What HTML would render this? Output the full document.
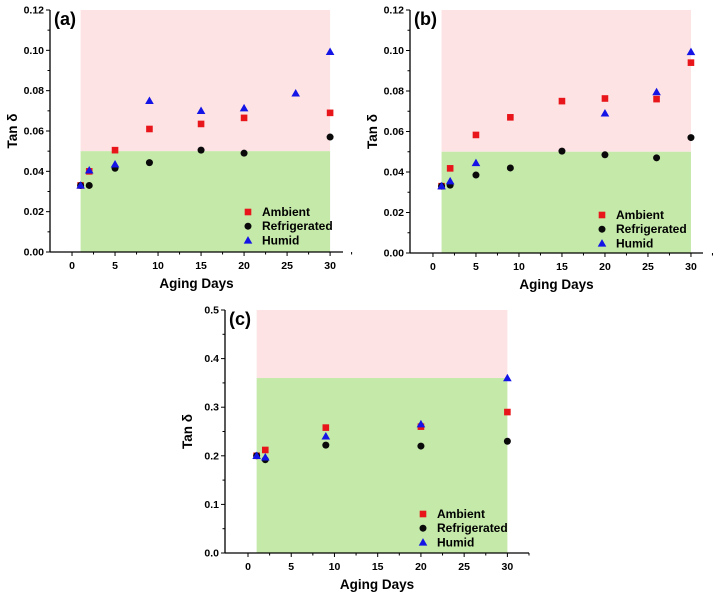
<!DOCTYPE html>
<html><head><meta charset="utf-8"><style>
body{margin:0;background:#fff;width:718px;height:599px;overflow:hidden}
svg{font-family:"Liberation Sans",Arial,sans-serif;font-weight:bold}
</style></head><body>
<svg id="s" width="718" height="599"></svg>
<script>
const daysA_amb=[1,2,5,9,15,20,30], valsA_amb=[0.033,0.040,0.0505,0.061,0.0635,0.0665,0.069];
const daysA_ref=[1,2,5,9,15,20,30], valsA_ref=[0.033,0.033,0.0415,0.0443,0.0505,0.049,0.057];
const daysA_hum=[1,2,5,9,15,20,26,30], valsA_hum=[0.033,0.0405,0.0435,0.075,0.070,0.0713,0.0787,0.0993];
const daysB_amb=[1,2,5,9,15,20,26,30], valsB_amb=[0.033,0.0418,0.0583,0.067,0.075,0.0763,0.076,0.094];
const daysB_ref=[1,2,5,9,15,20,26,30], valsB_ref=[0.033,0.0335,0.0385,0.042,0.0503,0.0485,0.047,0.057];
const daysB_hum=[1,2,5,20,26,30], valsB_hum=[0.033,0.0355,0.0445,0.069,0.0795,0.0993];
const daysC_amb=[1,2,9,20,30], valsC_amb=[0.2,0.212,0.258,0.26,0.29];
const daysC_ref=[1,2,9,20,30], valsC_ref=[0.2,0.192,0.222,0.22,0.23];
const daysC_hum=[1,2,9,20,30], valsC_hum=[0.2,0.197,0.24,0.265,0.36];
const xTicks=[0,5,10,15,20,25,30];
const yTicksAB=[0,0.02,0.04,0.06,0.08,0.10,0.12];
const yTicksC=[0,0.1,0.2,0.3,0.4,0.5];
const legendNames=["Ambient","Refrigerated","Humid"];
const NS="http://www.w3.org/2000/svg";
const svg=document.getElementById('s');
function mk(t,a,p){const e=document.createElementNS(NS,t);for(const k in a)e.setAttribute(k,a[k]);(p||svg).appendChild(e);return e;}
function panel(o){
  const g=mk('g',{});
  
  
  const X=v=>o.x0+(v-o.xmin)/(o.xmax-o.xmin)*(o.x1-o.x0);
  const Y=v=>o.y0-(v-o.ymin)/(o.ymax-o.ymin)*(o.y0-o.y1);
  const pink=mk('rect',{x:X(1),y:Y(o.ymax),width:X(30)-X(1),height:Y(o.thr)-Y(o.ymax),fill:'#fde3e3'},g);
  
  
  const green=mk('rect',{x:X(1),y:Y(o.thr),width:X(30)-X(1),height:Y(0)-Y(o.thr),fill:'#c4e9a9'},g);
  
  
  mk('line',{x1:o.x0,y1:o.y0,x2:o.x1,y2:o.y0,stroke:'#000','stroke-width':1.3},g);
  mk('line',{x1:o.x0,y1:o.y0,x2:o.x0,y2:o.y1,stroke:'#000','stroke-width':1.3},g);
  xTicks.forEach(v=>{mk('line',{x1:X(v),y1:o.y0,x2:X(v),y2:o.y0+4,stroke:'#000'},g);
    mk('line',{x1:X(v+2.5),y1:o.y0,x2:X(v+2.5),y2:o.y0+2.5,stroke:'#000'},g);
    const t=mk('text',{x:X(v),y:o.y0+17,'text-anchor':'middle','font-size':10.5},g);t.textContent=v;});
  const yt=o.yt; const step=yt[1]-yt[0];
  yt.forEach((v,i)=>{mk('line',{x1:o.x0,y1:Y(v),x2:o.x0-4,y2:Y(v),stroke:'#000'},g);
    if(i<yt.length-1)mk('line',{x1:o.x0,y1:Y(v+step/2),x2:o.x0-2.5,y2:Y(v+step/2),stroke:'#000'},g);
    const t=mk('text',{x:o.x0-6,y:Y(v)+3.5,'text-anchor':'end','font-size':10.5},g);t.textContent=v.toFixed(o.dec);});
  const xt=mk('text',{x:(o.x0+o.x1)/2,y:o.y0+36,'text-anchor':'middle','font-size':13.5},g);xt.textContent='Aging Days';
  
  const ytl=mk('text',{x:0,y:0,'text-anchor':'middle','font-size':13.5,transform:`translate(${o.x0-33},${(o.y0+o.y1)/2}) rotate(-90)`},g);ytl.textContent='Tan δ';
  
  const lb=mk('text',{x:o.x0+4,y:o.y1+15,'font-size':18},g);lb.textContent='('+o.id+')';
  
  function mark(type,cx,cy,pg){
    if(type===0)return mk('rect',{x:cx-3.3,y:cy-3.3,width:6.6,height:6.6,fill:'#e8161b'},pg);
    if(type===1)return mk('circle',{cx:cx,cy:cy,r:3.5,fill:'#0a0a0a'},pg);
    return mk('polygon',{points:`${cx},${cy-4.3} ${cx-4.3},${cy+3.2} ${cx+4.3},${cy+3.2}`,fill:'#1414e6'},pg);
  }
  o.series.forEach((s,si)=>{const sg=mk('g',{},g);
    
    
    s[0].forEach((d,i)=>{const m=mark(si,X(d),Y(s[1][i]),sg);
      
      });});
  const lg=mk('g',{},g);
  
  
  legendNames.forEach((n,i)=>{const yy=o.ly+i*14.2;mark(i,o.lx,yy,lg);
    const t=mk('text',{x:o.lx+14,y:yy+4,'font-size':12},lg);t.textContent=n;
    });
}
panel({id:'a',x0:50,x1:343,y0:252,y1:10,xmin:-2.56,xmax:31.5,ymin:0,ymax:0.12,thr:0.05,yt:yTicksAB,dec:2,lx:248,ly:212,
  series:[[daysA_amb,valsA_amb],[daysA_ref,valsA_ref],[daysA_hum,valsA_hum]]});
panel({id:'b',x0:410,x1:703,y0:253,y1:10,xmin:-2.67,xmax:31.4,ymin:0,ymax:0.12,thr:0.05,yt:yTicksAB,dec:2,lx:602,ly:215,
  series:[[daysB_amb,valsB_amb],[daysB_ref,valsB_ref],[daysB_hum,valsB_hum]]});
panel({id:'c',x0:225,x1:529,y0:553,y1:310,xmin:-2.66,xmax:32.5,ymin:0,ymax:0.5,thr:0.36,yt:yTicksC,dec:1,lx:423,ly:514,
  series:[[daysC_amb,valsC_amb],[daysC_ref,valsC_ref],[daysC_hum,valsC_hum]]});
</script></body></html>
